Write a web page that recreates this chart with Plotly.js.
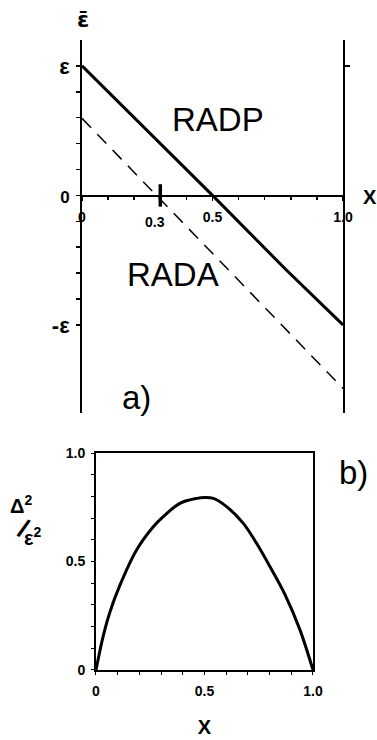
<!DOCTYPE html>
<html>
<head>
    <meta charset="UTF-8">
    <script src="https://cdn.plot.ly/plotly-3.0.1.min.js"></script>
    <style>
        html, body { margin: 0; padding: 0; background: #fff; }
        #chart { width: 377px; height: 740px; }
    </style>
</head>
<body>
    <div id="chart"></div>
    <script>
        // panel a) : RADP (solid) and RADA (dashed), y in units of epsilon
        const radpX = [0, 0.5, 0.78, 1.0];
        const radpY = [1.0, 0.0, -0.57, -1.0];
        const radaX = [0, 1.0];
        const radaY = [0.595, -1.49];
        const markX = [0.3];
        const markY = [0];

        const aXTickVals = [0, 0.5, 1.0];
        const aXTickText = ['0', '0.5', '1.0'];
        const aYTickVals = [-1, -0.8, -0.6, -0.4, -0.2, 0, 0.2, 0.4, 0.6, 0.8, 1];
        const aYTickText = ['-ε', '', '', '', '', '<span style="font-size:17px">0</span>', '', '', '', '', 'ε'];

        // panel b) : Delta^2 / eps^2 versus x
        const bX = [0, 0.034, 0.065, 0.11, 0.187, 0.264, 0.31, 0.387, 0.465, 0.5, 0.541, 0.602, 0.679, 0.74, 0.802, 0.87, 0.94, 1.0];
        const bY = [0, 0.16, 0.27, 0.39, 0.553, 0.66, 0.707, 0.768, 0.791, 0.795, 0.791, 0.753, 0.676, 0.584, 0.476, 0.35, 0.185, 0];
        const bTickVals = [0, 0.5, 1.0];
        const bTickText = ['0', '0.5', '1.0'];

        const fam = 'Liberation Sans, Arial, sans-serif';
        const tickFont = { family: fam, size: 14, color: 'black', weight: 'bold' };
        const bigFont = { family: fam, size: 33, color: 'black' };

        const data = [
            { x: radpX, y: radpY, type: 'scatter', mode: 'lines', xaxis: 'x', yaxis: 'y',
              line: { color: 'black', width: 3 }, hoverinfo: 'skip' },
            // drawn on the right-hand overlay axis (same range) so that axis is shown
            { x: radaX, y: radaY, type: 'scatter', mode: 'lines', xaxis: 'x', yaxis: 'y2',
              line: { color: 'black', width: 1.5, dash: '13px,9px' }, hoverinfo: 'skip' },
            { x: markX, y: markY, type: 'scatter', mode: 'markers', xaxis: 'x', yaxis: 'y',
              marker: { symbol: 'line-ns', size: 16, line: { width: 3.5, color: 'black' } }, hoverinfo: 'skip' },
            { x: bX, y: bY, type: 'scatter', mode: 'lines', xaxis: 'x3', yaxis: 'y3',
              line: { color: 'black', width: 3, shape: 'spline', smoothing: 1 }, hoverinfo: 'skip' }
        ];

        const layout = {
            width: 377,
            height: 740,
            margin: { l: 0, r: 0, t: 0, b: 0 },
            paper_bgcolor: 'white',
            plot_bgcolor: 'white',
            showlegend: false,
            xaxis: {
                domain: [0.2175, 0.9098], range: [0, 1], anchor: 'free', position: 0.7358,
                showline: true, linewidth: 2, linecolor: 'black', showgrid: false, zeroline: false,
                tickmode: 'array', tickvals: aXTickVals, ticktext: aXTickText,
                ticks: 'outside', ticklen: 4, tickwidth: 1.5, tickcolor: 'black', ticklabelstandoff: 5,
                minor: { dtick: 0.1, ticks: 'outside', ticklen: 3, tickcolor: 'black', showgrid: false },
                tickfont: tickFont
            },
            yaxis: {
                domain: [0.4419, 0.9459], range: [-1.68, 1.2], anchor: 'x',
                showline: true, linewidth: 2, linecolor: 'black', showgrid: false, zeroline: false,
                tickmode: 'array', tickvals: aYTickVals, ticktext: aYTickText,
                ticks: 'outside', ticklen: 4, tickwidth: 1.5, tickcolor: 'black', ticklabelstandoff: 2,
                tickfont: { family: fam, size: 22, color: 'black', weight: 'bold' }
            },
            yaxis2: {
                overlaying: 'y', side: 'right', anchor: 'x', range: [-1.68, 1.2],
                showline: true, linewidth: 2, linecolor: 'black', showgrid: false, zeroline: false,
                tickmode: 'array', tickvals: [1], ticks: 'outside', ticklen: 5, tickwidth: 1.5, tickcolor: 'black',
                showticklabels: false
            },
            xaxis3: {
                domain: [0.2546, 0.8302], range: [0, 1], anchor: 'y3',
                showline: true, mirror: true, linewidth: 2, linecolor: 'black', showgrid: false, zeroline: false,
                tickmode: 'array', tickvals: bTickVals, ticktext: bTickText,
                ticks: 'outside', ticklen: 3, tickcolor: 'black', ticklabelstandoff: 4,
                minor: { dtick: 0.1, ticks: 'outside', ticklen: 3, tickcolor: 'black', showgrid: false },
                tickfont: tickFont,
                title: { text: 'X', font: { family: fam, size: 20, color: 'black', weight: 'bold' }, standoff: 22 }
            },
            yaxis3: {
                domain: [0.0946, 0.3878], range: [0, 1], anchor: 'x3',
                showline: true, mirror: true, linewidth: 2, linecolor: 'black', showgrid: false, zeroline: false,
                tickmode: 'array', tickvals: bTickVals, ticktext: bTickText,
                ticks: 'outside', ticklen: 3, tickcolor: 'black', ticklabelstandoff: 3,
                minor: { dtick: 0.1, ticks: 'outside', ticklen: 3, tickcolor: 'black', showgrid: false },
                tickfont: tickFont
            },
            annotations: [
                { xref: 'x', yref: 'y', x: 0.3, y: 0, yshift: -27, xshift: -5, text: '0.3', showarrow: false, font: tickFont },
                { xref: 'x', yref: 'y', x: 0.52, y: 0.583, text: 'RADP', showarrow: false, font: bigFont },
                { xref: 'x', yref: 'y', x: 0.35, y: -0.614, text: 'RADA', showarrow: false, font: bigFont },
                { xref: 'x', yref: 'y', x: 0.21, y: -1.564, text: 'a)', showarrow: false, font: bigFont },
                { xref: 'paper', yref: 'paper', x: 370 / 377, y: 1 - 197 / 740, xanchor: 'center', yanchor: 'middle',
                  text: 'X', showarrow: false, font: { family: fam, size: 20, color: 'black', weight: 'bold' } },
                { xref: 'paper', yref: 'paper', x: 83 / 377, y: 1 - 20 / 740, xanchor: 'center', yanchor: 'middle',
                  text: 'ε\u0304', showarrow: false, font: { family: 'DejaVu Sans, sans-serif', size: 22, color: 'black', weight: 'bold' } },
                { xref: 'paper', yref: 'paper', x: 353 / 377, y: 1 - 472 / 740, xanchor: 'center', yanchor: 'middle',
                  text: 'b)', showarrow: false, font: bigFont },
                { xref: 'paper', yref: 'paper', x: 21 / 377, y: 1 - 504 / 740, xanchor: 'center', yanchor: 'middle',
                  text: 'Δ<sup>2</sup>', showarrow: false, font: { family: fam, size: 20, color: 'black', weight: 'bold' } },
                { xref: 'paper', yref: 'paper', x: 23 / 377, y: 1 - 528 / 740, xanchor: 'center', yanchor: 'middle',
                  text: '/', textangle: 25, showarrow: false, font: { family: fam, size: 26, color: 'black', weight: 'bold' } },
                { xref: 'paper', yref: 'paper', x: 33 / 377, y: 1 - 536 / 740, xanchor: 'center', yanchor: 'middle',
                  text: 'ε<sup>2</sup>', showarrow: false, font: { family: fam, size: 20, color: 'black', weight: 'bold' } }
            ]
        };

        Plotly.newPlot('chart', data, layout, { staticPlot: true });
    </script>
</body>
</html>
